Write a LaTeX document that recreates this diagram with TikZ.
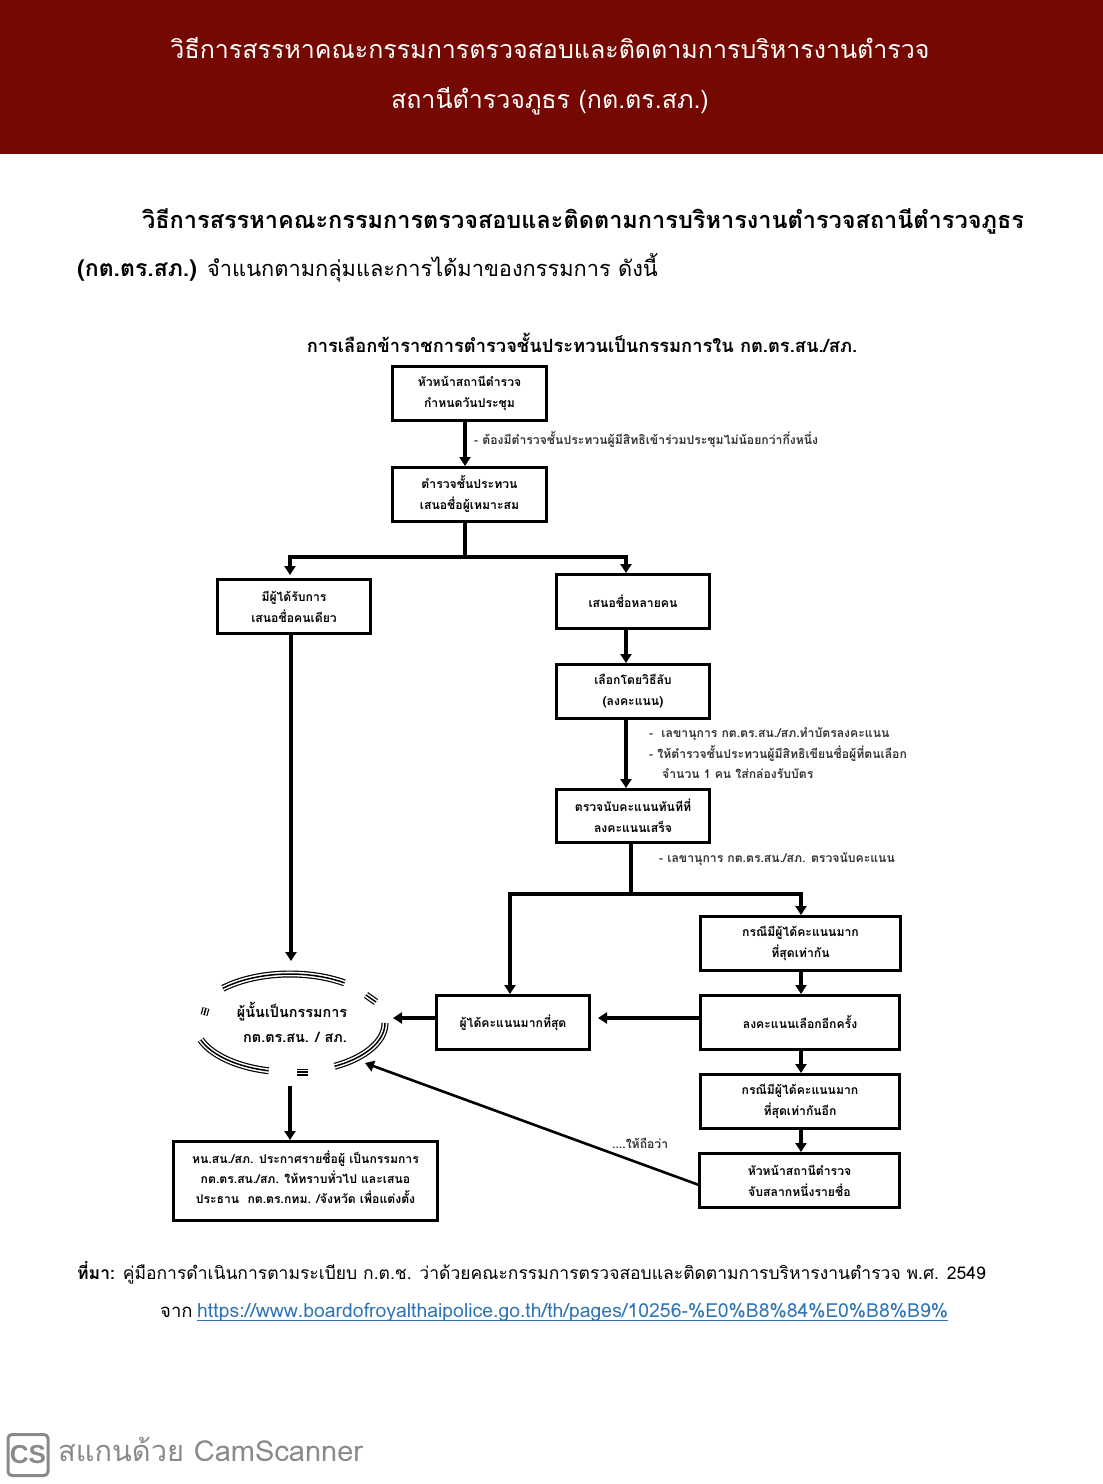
\documentclass[tikz,border=0pt]{standalone}
\usepackage{fontspec}
\setmainfont{Liberation Sans}
\newfontfamily\thaifont[Script=Thai]{Loma}
\usetikzlibrary{arrows.meta,shapes.geometric}
\definecolor{bandred}{HTML}{750800}
\definecolor{linkblue}{HTML}{2E74B5}
\definecolor{scangray}{HTML}{8A8A8A}
\newcommand{\fs}[1]{\fontsize{#1}{#1}\selectfont}
\tikzset{
  x=1pt,y=1pt,
  flowbox/.style={draw=black,line width=3pt,inner sep=0pt,align=center,anchor=north west,
    font=\thaifont\bfseries\fontsize{12.2}{21}\selectfont},
  note/.style={anchor=west,inner sep=0pt,font=\thaifont\bfseries\fontsize{12.2}{12}\selectfont,text=black!80},
  conn/.style={line width=3.2pt,draw=black},
  arr/.style={conn,-{Triangle[length=9pt,width=11pt]}},
  triple/.style={line width=7pt,draw=black,postaction={draw=white,line width=4.6pt},postaction={draw=black,line width=1.5pt}},
  plain/.style={inner sep=0pt,font=\thaifont}
}
\newcommand{\ringarc}[2]{\draw[triple] plot[domain=#1:#2,samples=40,smooth] ({290+95*cos(\x)},{-1023+49*sin(\x)});}
\begin{document}
\begin{tikzpicture}
\useasboundingbox (0,0) rectangle (1103,-1484);
\fill[bandred] (0,0) rectangle (1103,-153.5);
\node[plain,text=white,font=\thaifont\fs{25}] (h1) at (550,-48) {วิธีการสรรหาคณะกรรมการตรวจสอบและติดตามการบริหารงานตำรวจ};
\node[plain,text=white,font=\thaifont\fs{25}] (h2) at (550,-101) {สถานีตำรวจภูธร (กต.ตร.สภ.)};
\node[plain,anchor=west,font=\thaifont\bfseries\fs{23.5}] (p1) at (142,-221) {วิธีการสรรหาคณะกรรมการตรวจสอบและติดตามการบริหารงานตำรวจสถานีตำรวจภูธร};
\node[plain,anchor=base west,font=\thaifont\bfseries\fs{23}] (p2) at (77,-276) {(กต.ตร.สภ.)};
\node[plain,anchor=base west,font=\thaifont\fs{21.8}] (p3) at (207,-276) {จำแนกตามกลุ่มและการได้มาของกรรมการ ดังนี้};
\node[plain,font=\thaifont\bfseries\fs{18.3}] (title) at (582,-342.5) {การเลือกข้าราชการตำรวจชั้นประทวนเป็นกรรมการใน กต.ตร.สน./สภ.};

% boxes
\node[flowbox,minimum width=154pt,minimum height=54pt] (b1) at (391,-365) {หัวหน้าสถานีตำรวจ\\กำหนดวันประชุม};
\node[flowbox,minimum width=154pt,minimum height=54pt] (b2) at (391,-466) {ตำรวจชั้นประทวน\\เสนอชื่อผู้เหมาะสม};
\node[flowbox,minimum width=153pt,minimum height=54pt] (b3) at (216,-578) {มีผู้ได้รับการ\\เสนอชื่อคนเดียว};
\node[flowbox,minimum width=153pt,minimum height=54pt] (b4) at (555,-573) {\raisebox{-8pt}{เสนอชื่อหลายคน}};
\node[flowbox,minimum width=153pt,minimum height=54pt] (b5) at (555,-663) {เลือกโดยวิธีลับ\\(ลงคะแนน)};
\node[flowbox,minimum width=153pt,minimum height=53pt] (b6) at (555,-788) {ตรวจนับคะแนนทันทีที่\\ลงคะแนนเสร็จ};
\node[flowbox,minimum width=200pt,minimum height=54pt] (b7) at (699,-915) {กรณีมีผู้ได้คะแนนมาก\\ที่สุดเท่ากัน};
\node[flowbox,minimum width=199pt,minimum height=54pt] (b8) at (699,-994) {\raisebox{-13pt}{ลงคะแนนเลือกอีกครั้ง}};
\node[flowbox,minimum width=199pt,minimum height=54pt] (b9) at (699,-1073) {กรณีมีผู้ได้คะแนนมาก\\ที่สุดเท่ากันอีก};
\node[flowbox,minimum width=200pt,minimum height=54pt] (b10) at (698,-1152) {หัวหน้าสถานีตำรวจ\\จับสลากหนึ่งรายชื่อ};
\node[flowbox,minimum width=153pt,minimum height=54pt] (b11) at (435,-994) {\raisebox{-13pt}{ผู้ได้คะแนนมากที่สุด}};
\node[flowbox,minimum width=264pt,minimum height=79pt] (b12) at (172,-1140) {};
\node[plain,align=center,font=\thaifont\bfseries\fontsize{12.2}{20}\selectfont] (t12) at ([yshift=4pt]b12.center) {หน.สน./สภ. ประกาศรายชื่อผู้ เป็นกรรมการ\\กต.ตร.สน./สภ. ให้ทราบทั่วไป และเสนอ\\ประธาน\ \ กต.ตร.กทม. /จังหวัด เพื่อแต่งตั้ง};

% ring
\node[ellipse,minimum width=190pt,minimum height=98pt,inner sep=0pt,align=center,font=\thaifont\bfseries\fontsize{14.4}{25}\selectfont] (ring) at (292,-1022) {ผู้นั้นเป็นกรรมการ\\\hspace*{6pt}กต.ตร.สน. / สภ.};
\ringarc{55}{135}
\ringarc{-62}{0}
\ringarc{-160}{-103}
\coordinate (leftA) at (206,-1008);
\coordinate (leftB) at (204,-1015);
\coordinate (rightA) at (366,-995);
\coordinate (rightB) at (376,-1002);
\coordinate (lowA) at (297,-1072);
\coordinate (lowB) at (308,-1072);
\draw[triple] (leftA) -- (leftB);
\draw[triple] (rightA) -- (rightB);
\draw[triple] (lowA) -- (lowB);

% routing points
\coordinate (a12) at (465,-300);
\coordinate (split) at (465,-557);
\coordinate (dropL) at (290,-557);
\coordinate (dropR) at (626,-557);
\coordinate (tie) at (631,-894);
\coordinate (tieL) at (510,-894);
\coordinate (tieR) at (801,-894);
\coordinate (ringTop) at (291,-961);
\coordinate (ringBot) at (290,-1086);
\coordinate (ringRight) at (393,-1018);
\coordinate (ringLow) at (365,-1063);
\coordinate (toB11) at (598,-1018);
\coordinate (b10out) at (699,-1185);

\draw[arr] (b1.south -| a12) -- (b2.north -| a12);
\draw[conn] (b2.south -| a12) -- (split);
\draw[arr] (dropL) -- ([yshift=3pt]b3.north -| dropL) ;
\draw[arr] (dropR) -- (b4.north -| dropR);
\draw[conn] ([xshift=-1.6pt]dropL) -- ([xshift=1.6pt]dropR);
\draw[arr] (b3.south -| ringTop) -- (ringTop);
\draw[arr] (b4.south -| dropR) -- (b5.north -| dropR);
\draw[arr] (b5.south -| dropR) -- (b6.north -| dropR);
\draw[conn] (b6.south -| tie) -- (tie);
\draw[conn] ([xshift=-1.6pt]tieL) -- ([xshift=1.6pt]tieR);
\draw[arr] (tieL) -- (b11.north -| tieL);
\draw[arr] (tieR) -- (b7.north -| tieR);
\draw[arr] (b7.south -| tieR) -- (b8.north -| tieR);
\draw[arr] (b8.south -| tieR) -- (b9.north -| tieR);
\draw[arr] (b9.south -| tieR) -- (b10.north -| tieR);
\draw[arr] (b8.west |- toB11) -- (toB11);
\draw[arr] (b11.west |- ringRight) -- (ringRight);
\draw[arr] (ringBot) -- (b12.north -| ringBot);
\draw[arr,line width=2.6pt] (b10out) -- (ringLow);

% notes
\node[note] (n1) at (474,-440) {- ต้องมีตำรวจชั้นประทวนผู้มีสิทธิเข้าร่วมประชุมไม่น้อยกว่ากึ่งหนึ่ง};
\node[note] (n2) at (649,-734) {-\ \ เลขานุการ กต.ตร.สน./สภ.ทำบัตรลงคะแนน};
\node[note] (n3) at (649,-754) {- ให้ตำรวจชั้นประทวนผู้มีสิทธิเขียนชื่อผู้ที่ตนเลือก};
\node[note] (n4) at (662,-774) {จำนวน 1 คน ใส่กล่องรับบัตร};
\node[note] (n5) at (659,-859) {- เลขานุการ กต.ตร.สน./สภ. ตรวจนับคะแนน};
\node[note] (n6) at (612,-1143) {....ให้ถือว่า};

% source
\node[plain,anchor=west,font=\thaifont\fs{17.5}] (src1) at (77,-1273) {\textbf{ที่มา:} คู่มือการดำเนินการตามระเบียบ ก.ต.ช. ว่าด้วยคณะกรรมการตรวจสอบและติดตามการบริหารงานตำรวจ พ.ศ. 2549};
\node[plain,anchor=west,font=\thaifont\fs{18.5}] (src2) at (160,-1312) {จาก};
\node[plain,anchor=west,font=\thaifont\fs{19.4},text=linkblue] (url) at (197,-1312) {https://www.boardofroyalthaipolice.go.th/th/pages/10256-\%E0\%B8\%84\%E0\%B8\%B9\%};
\draw[linkblue,line width=.9pt] ([yshift=-3pt]url.base west) -- ([yshift=-3pt]url.base east);

% scanner mark
\node[draw=scangray,line width=3pt,rounded corners=4pt,minimum width=40pt,minimum height=41pt,inner sep=0pt,text=scangray,font=\bfseries\fs{26}] (cs) at (28,-1455) {CS};
\node[plain,anchor=west,text=scangray,font=\thaifont\fs{29}] (cam) at (58,-1449) {สแกนด้วย CamScanner};
\end{tikzpicture}
\end{document}
